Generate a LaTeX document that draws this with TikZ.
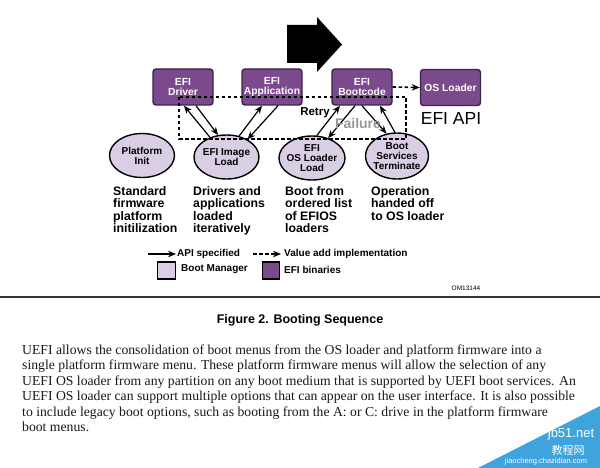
\documentclass[tikz,border=0pt]{standalone}
\usepackage{fontspec}
\setmainfont{Liberation Serif}
\setsansfont{Liberation Sans}
\newfontfamily\cjk{Noto Sans CJK SC}
\usetikzlibrary{shapes.geometric,arrows.meta}
\definecolor{efipurple}{HTML}{7B4A8C}
\definecolor{efiborder}{HTML}{3B2445}
\definecolor{bmfill}{HTML}{D9CEE4}
\definecolor{wmblue}{HTML}{3FA3DE}
\begin{document}
\begin{tikzpicture}[x=1pt,y=-1pt,
  efibox/.style={draw=efiborder, line width=1.4pt, fill=efipurple, rounded corners=3pt,
    minimum width=60pt, minimum height=36pt, inner sep=0pt, text=white,
    font=\sffamily\bfseries\fontsize{10.3}{10.5}\selectfont, align=center},
  bmell/.style={ellipse, draw=black, line width=1.4pt, fill=bmfill,
    minimum width=65pt, minimum height=44pt, inner sep=0pt},
  elltxt/.style={font=\sffamily\bfseries\fontsize{10}{10}\selectfont, align=center, inner sep=0pt},
  desc/.style={anchor=north west, inner sep=0pt, align=left,
    font=\sffamily\bfseries\fontsize{12.3}{12.5}\selectfont},
  api/.style={line width=1.2pt, -{Stealth[length=8pt,width=6.5pt]}},
  valadd/.style={line width=1.6pt, dash pattern=on 3.5pt off 2.5pt},
  leg/.style={anchor=west, inner sep=0pt, font=\sffamily\bfseries\fontsize{10}{10}\selectfont},
  body/.style={anchor=base west, inner sep=0pt, font=\fontsize{13.7}{15.5}\selectfont, text=black!90}
]
\useasboundingbox (0,0) rectangle (600,468);
\fill[white] (0,0) rectangle (600,468);

% big arrow
\fill[black] (287,25) -- (317,25) -- (317,17) -- (342,44.5) -- (317,72) -- (317,63) -- (287,63) -- cycle;

% EFI binaries
\node[efibox] (drv) at (183,87) {EFI\\Driver};
\node[efibox] (app) at (272,87) {EFI\\Application};
\node[efibox] (boot) at (362,87) {EFI\\Bootcode};
\node[efibox] (osl) at (450.5,87.5) {OS Loader};
\node[font=\sffamily\fontsize{17.5}{17.5}\selectfont, inner sep=0pt] (efiapi) at (451,118) {EFI API};

% boot manager ellipses
\node[bmell, label={[elltxt]center:{Platform\\Init}}] (pinit) at (142,155.5) {};
\node[bmell, label={[elltxt]center:{EFI Image\\Load}}] (img) at (226.5,157) {};
\node[bmell, minimum width=66pt, label={[elltxt]center:{EFI\\OS Loader\\Load}}] (osll) at (312,158) {};
\node[bmell, minimum width=63pt, minimum height=46pt, label={[elltxt]center:{Boot\\Services\\Terminate}}] (bst) at (397,156) {};

% value add dashed paths
\draw[valadd] (179,97) rectangle (406,139);
\draw[valadd, -{Stealth[length=8pt,width=6.5pt]}] (boot.east) -- (osl.west);

% API arrows
\draw[api] (img.130) -- ([xshift=1pt]drv.south);
\draw[api] ([xshift=13pt]drv.south) -- (img.111);
\draw[api] (img.59) -- ([xshift=-10pt]app.south);
\draw[api] ([xshift=6pt]app.south) -- (img.40);
\draw[api] (osll.78) -- ([xshift=-22pt]boot.south);
\draw[api] ([xshift=-7pt]boot.south) -- (osll.51);
\draw[api] ([xshift=0pt]boot.south) -- (bst.115);
\draw[api] (bst.95) -- ([xshift=18pt]boot.south);

\node[font=\sffamily\bfseries\fontsize{11.5}{11.5}\selectfont, inner sep=0pt] (retry) at (315,113) {Retry};
\node[font=\sffamily\bfseries\fontsize{14}{14}\selectfont, text=black!40, inner sep=0pt] (fail) at (358,123) {Failure};

% descriptions
\node[desc] (d1) at (113,186) {Standard\\firmware\\platform\\initilization};
\node[desc] (d2) at (193,186) {Drivers and\\applications\\loaded\\iteratively};
\node[desc] (d3) at (285,186) {Boot from\\ordered list\\of EFIOS\\loaders};
\node[desc] (d4) at (371,186) {Operation\\handed off\\to OS loader};

% legend
\coordinate (la1) at (148,254); \coordinate (lb1) at (176,254);
\draw[api] (la1) -- (lb1);
\node[leg] (lapi) at (177,254) {API specified};
\coordinate (la2) at (253,254); \coordinate (lb2) at (281,254);
\draw[valadd, -{Stealth[length=8pt,width=6.5pt]}] (la2) -- (lb2);
\node[leg] (lval) at (284,254) {Value add implementation};
\node[draw=black, line width=1.2pt, fill=bmfill, minimum width=18pt, minimum height=17pt, inner sep=0pt] (sqbm) at (166.5,270.5) {};
\node[leg] (lbm) at (181,269.5) {Boot Manager};
\node[draw=black, line width=1.2pt, fill=efipurple, minimum width=17pt, minimum height=17pt, inner sep=0pt] (sqefi) at (271,270.5) {};
\node[leg] (lefi) at (284,269.5) {EFI binaries};
\node[font=\sffamily\fontsize{6.5}{6.5}\selectfont, inner sep=0pt] (om) at (466,288) {OM13144};

% rule and caption
\draw[line width=2pt, black!80] (0,297) -- (600,297);
\node[font=\sffamily\bfseries\fontsize{12.5}{12.5}\selectfont, inner sep=0pt] (cap) at (300,320.5) {Figure 2. Booting Sequence};

% body text
\node[body] (t1) at (22,354) {UEFI allows the consolidation of boot menus from the OS loader and platform firmware into a};
\node[body] (t2) at (22,369.5) {single platform firmware menu. These platform firmware menus will allow the selection of any};
\node[body] (t3) at (22,385) {UEFI OS loader from any partition on any boot medium that is supported by UEFI boot services. An};
\node[body] (t4) at (22,400.5) {UEFI OS loader can support multiple options that can appear on the user interface. It is also possible};
\node[body] (t5) at (22,416) {to include legacy boot options, such as booting from the A: or C: drive in the platform firmware};
\node[body] (t6) at (22,431.5) {boot menus.};

% watermark
\fill[wmblue] (600,406) -- (600,468) -- (478,468) -- cycle;
\node[font=\sffamily\fontsize{13}{13}\selectfont, text=white, inner sep=0pt] (wm1) at (571,434) {jb51.net};
\node[font=\cjk\fontsize{11}{11}\selectfont, text=white, inner sep=0pt] (wm2) at (568,450) {教程网};
\node[font=\sffamily\fontsize{7.5}{7.5}\selectfont, text=white, inner sep=0pt] (wm3) at (546,462) {jiaocheng.chazidian.com};
\end{tikzpicture}
\end{document}
